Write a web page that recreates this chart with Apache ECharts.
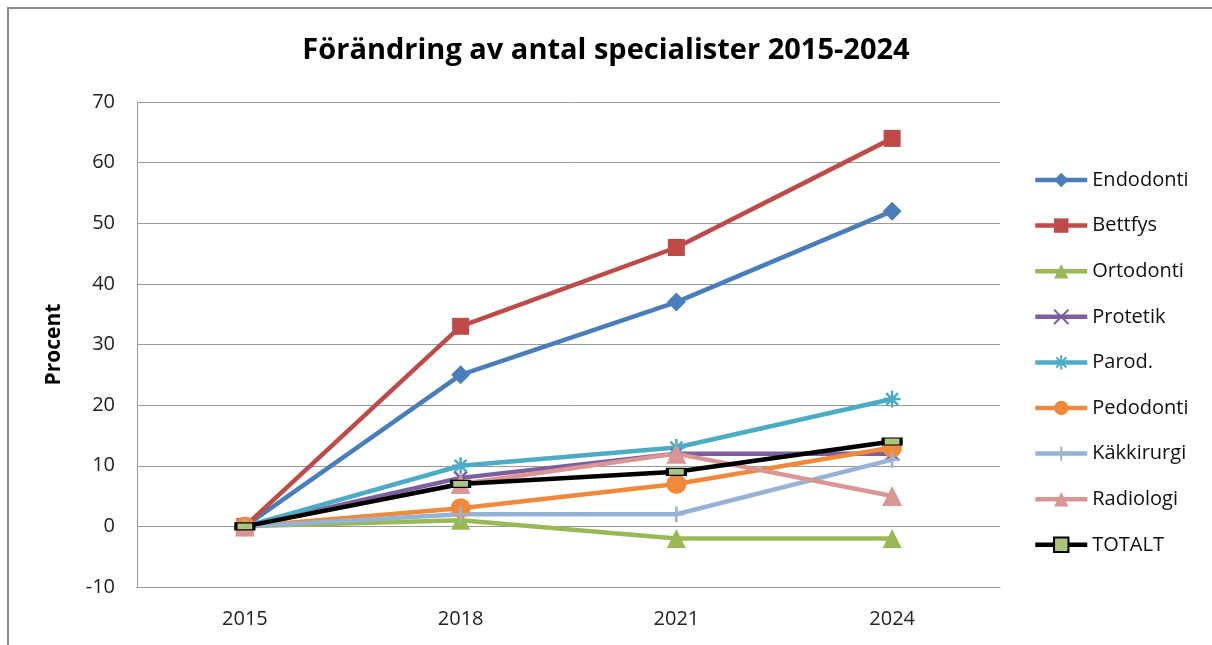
<!DOCTYPE html>
<html>
<head>
<meta charset="utf-8">
<script src="https://cdn.jsdelivr.net/npm/echarts@6/dist/echarts.min.js"></script>
<style>
  html, body { margin: 0; padding: 0; background: #fff; }
  #chart { width: 1212px; height: 645px; }
</style>
</head>
<body>
<div id="chart"></div>
<script>
// kategorier och värden (procent förändring mot 2015)
var years = ["2015", "2018", "2021", "2024"];
var endodonti = [0, 25, 37, 52];
var bettfys = [0, 33, 46, 64];
var ortodonti = [0, 1, -2, -2];
var protetik = [0, 8, 12, 12];
var parod = [0, 10, 13, 21];
var pedodonti = [0, 3, 7, 13];
var kakkirurgi = [0, 2, 2, 11];
var radiologi = [0, 7, 12, 5];
var totalt = [0, 7, 9, 14];

var chart = echarts.init(document.getElementById("chart"));
var font = "'Open Sans', 'Noto Sans', sans-serif";

function serie(name, data, color, symbol, size, extra) {
    var s = {
        name: name,
        type: "line",
        data: data,
        symbol: symbol,
        symbolSize: size,
        showAllSymbol: true,
        lineStyle: { color: color, width: 4.5 },
        itemStyle: { color: color }
    };
    if (extra) {
        for (var k in extra) s[k] = extra[k];
    }
    return s;
}

var crossX = "path://M0,0L10,10M10,0L0,10";
var star = "path://M5,0L5,10M0,5L10,5M1.5,1.5L8.5,8.5M8.5,1.5L1.5,8.5";
var plus = "path://M5,0L5,10M0,5L10,5";

function strokeStyle(c) {
    return { color: c, borderColor: c, borderWidth: 2.5 };
}

var option = {
    backgroundColor: "#fff",
    animation: false,
    title: {
        text: "Förändring av antal specialister 2015-2024",
        left: "center",
        top: 31,
        textStyle: { fontFamily: font, fontSize: 29, fontWeight: "bold", color: "#000" }
    },
    grid: { left: 137, right: 212, top: 102, bottom: 58 },
    legend: {
        orient: "vertical",
        left: 1033,
        top: 170,
        padding: 0,
        itemWidth: 52,
        itemHeight: 18,
        itemGap: 25.6,
        lineStyle: { width: 4.5 },
        textStyle: { fontFamily: font, fontSize: 20, lineHeight: 20, color: "#111" },
        data: ["Endodonti", "Bettfys", "Ortodonti", "Protetik", "Parod.", "Pedodonti", "Käkkirurgi", "Radiologi", "TOTALT"]
    },
    xAxis: {
        type: "category",
        data: years,
        boundaryGap: true,
        axisLine: { onZero: false, lineStyle: { color: "#999", width: 1 } },
        axisTick: { show: false },
        axisLabel: { fontFamily: font, fontSize: 20, color: "#222", margin: 22 }
    },
    yAxis: {
        type: "value",
        min: -10,
        max: 70,
        interval: 10,
        name: "Procent",
        nameLocation: "middle",
        nameRotate: 90,
        nameGap: 72,
        nameTextStyle: { fontFamily: font, fontSize: 21, fontWeight: "bold", color: "#000" },
        axisLine: { show: true, lineStyle: { color: "#999", width: 1 } },
        axisTick: { show: false },
        splitLine: { lineStyle: { color: "#999", width: 1 } },
        axisLabel: { fontFamily: font, fontSize: 20, color: "#222", margin: 22 }
    },
    graphic: [{
        type: "rect",
        shape: { x: 8, y: 8, width: 1230, height: 660 },
        style: { fill: "none", stroke: "#888", lineWidth: 2 },
        silent: true
    }],
    series: [
        serie("Endodonti", endodonti, "#4A7EBB", "diamond", 19),
        serie("Bettfys", bettfys, "#BE4B48", "rect", 17),
        serie("Ortodonti", ortodonti, "#98B954", "triangle", 19),
        serie("Protetik", protetik, "#7D5FA0", crossX, 13, { itemStyle: strokeStyle("#7D5FA0") }),
        serie("Parod.", parod, "#4BACC6", star, 17, { itemStyle: strokeStyle("#4BACC6") }),
        serie("Pedodonti", pedodonti, "#F08A3A", "circle", 20),
        serie("Käkkirurgi", kakkirurgi, "#95B3D7", plus, 16, { itemStyle: strokeStyle("#95B3D7") }),
        serie("Radiologi", radiologi, "#D99694", "triangle", 20),
        serie("TOTALT", totalt, "#000", "rect", [18, 7], {
            itemStyle: { color: "#A9C47F", borderColor: "#000", borderWidth: 2 }
        })
    ]
};

chart.setOption(option);
</script>
</body>
</html>
